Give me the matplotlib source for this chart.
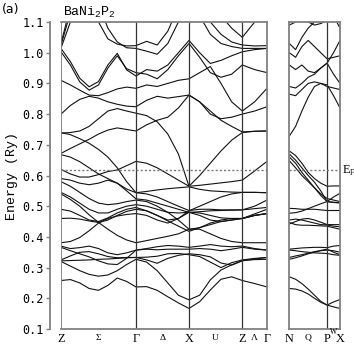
import numpy as np
import matplotlib
matplotlib.use("Agg")
import matplotlib.pyplot as plt
from matplotlib.transforms import blended_transform_factory

plt.rcParams['mathtext.fontset'] = 'custom'
plt.rcParams['mathtext.rm'] = 'Liberation Mono'
plt.rcParams['mathtext.default'] = 'rm'

# ---------------- data ----------------
E_F = 0.617
yticks = [0.1, 0.2, 0.3, 0.4, 0.5, 0.6, 0.7, 0.8, 0.9, 1.0, 1.1]

# main path Z-Σ-Γ-Δ-X-U-Z-Λ-Γ
main_points = ['Z', 'Γ', 'X', 'Z', 'Γ']
main_mid = ['Σ', 'Δ', 'U', 'Λ']
main_seg_len = [75.0, 53.0, 53.3, 24.7]
main_seg_n = [8, 5, 5, 2]

band_01 = [0.258, 0.261, 0.250, 0.232, 0.226, 0.242, 0.266, 0.255, 0.237, 0.238, 0.226, 0.205, 0.185, 0.167, 0.189, 0.227, 0.262, 0.270, 0.258, 0.248, 0.237]
band_02 = [0.320, 0.305, 0.290, 0.278, 0.272, 0.276, 0.290, 0.310, 0.327, 0.318, 0.290, 0.250, 0.210, 0.195, 0.210, 0.260, 0.292, 0.309, 0.323, 0.326, 0.327]
band_03 = [0.322, 0.323, 0.324, 0.325, 0.327, 0.328, 0.330, 0.332, 0.333, 0.334, 0.337, 0.345, 0.346, 0.342, 0.336, 0.318, 0.300, 0.316, 0.325, 0.330, 0.333]
band_04 = [0.325, 0.338, 0.350, 0.352, 0.345, 0.336, 0.332, 0.333, 0.333, 0.325, 0.314, 0.330, 0.340, 0.345, 0.342, 0.335, 0.315, 0.308, 0.322, 0.328, 0.333]
band_05 = [0.366, 0.355, 0.345, 0.335, 0.322, 0.312, 0.310, 0.330, 0.357, 0.360, 0.358, 0.360, 0.360, 0.360, 0.362, 0.360, 0.355, 0.360, 0.366, 0.360, 0.357]
band_06 = [0.370, 0.362, 0.365, 0.370, 0.362, 0.348, 0.342, 0.348, 0.357, 0.362, 0.368, 0.372, 0.370, 0.366, 0.370, 0.375, 0.370, 0.368, 0.370, 0.362, 0.357]
band_07 = [0.381, 0.385, 0.398, 0.420, 0.445, 0.460, 0.468, 0.473, 0.476, 0.470, 0.455, 0.445, 0.460, 0.480, 0.470, 0.455, 0.450, 0.455, 0.460, 0.470, 0.476]
band_08 = [0.540, 0.522, 0.500, 0.472, 0.447, 0.425, 0.405, 0.390, 0.381, 0.388, 0.395, 0.402, 0.410, 0.425, 0.425, 0.410, 0.395, 0.385, 0.381, 0.381, 0.381]
band_09 = [0.460, 0.461, 0.458, 0.452, 0.447, 0.455, 0.470, 0.483, 0.490, 0.485, 0.470, 0.455, 0.460, 0.485, 0.500, 0.515, 0.530, 0.540, 0.545, 0.545, 0.544]
band_10 = [0.490, 0.484, 0.470, 0.455, 0.450, 0.462, 0.478, 0.490, 0.496, 0.485, 0.470, 0.452, 0.435, 0.418, 0.430, 0.445, 0.455, 0.460, 0.460, 0.470, 0.476]
band_11 = [0.545, 0.530, 0.510, 0.490, 0.478, 0.478, 0.490, 0.500, 0.505, 0.500, 0.490, 0.480, 0.478, 0.480, 0.478, 0.470, 0.462, 0.460, 0.460, 0.475, 0.490]
band_12 = [0.580, 0.565, 0.545, 0.525, 0.510, 0.505, 0.508, 0.515, 0.520, 0.515, 0.500, 0.480, 0.455, 0.425, 0.430, 0.440, 0.450, 0.455, 0.460, 0.470, 0.476]
band_13 = [0.590, 0.585, 0.575, 0.570, 0.575, 0.585, 0.575, 0.556, 0.544, 0.540, 0.530, 0.515, 0.500, 0.486, 0.490, 0.490, 0.488, 0.488, 0.488, 0.492, 0.496]
band_14 = [0.620, 0.605, 0.595, 0.595, 0.603, 0.613, 0.618, 0.632, 0.646, 0.640, 0.625, 0.605, 0.585, 0.565, 0.600, 0.640, 0.680, 0.715, 0.740, 0.744, 0.745]
band_15 = [0.740, 0.733, 0.720, 0.705, 0.685, 0.660, 0.625, 0.580, 0.544, 0.548, 0.553, 0.557, 0.560, 0.563, 0.555, 0.550, 0.548, 0.546, 0.545, 0.545, 0.544]
band_16 = [0.672, 0.688, 0.703, 0.718, 0.735, 0.748, 0.755, 0.750, 0.745, 0.765, 0.780, 0.790, 0.820, 0.862, 0.840, 0.810, 0.780, 0.760, 0.742, 0.744, 0.745]
band_17 = [0.800, 0.828, 0.848, 0.858, 0.852, 0.840, 0.832, 0.826, 0.824, 0.845, 0.858, 0.852, 0.857, 0.862, 0.840, 0.800, 0.785, 0.790, 0.800, 0.810, 0.824]
band_18 = [0.910, 0.895, 0.878, 0.862, 0.860, 0.870, 0.882, 0.888, 0.884, 0.895, 0.890, 0.900, 0.910, 0.915, 0.935, 0.955, 0.900, 0.840, 0.810, 0.840, 0.884]
band_19 = [1.014, 0.971, 0.917, 0.889, 0.906, 0.960, 0.998, 0.944, 0.924, 0.945, 0.940, 0.960, 1.000, 1.040, 1.000, 0.965, 0.975, 0.990, 1.003, 1.010, 1.014]
band_20 = [1.003, 0.960, 0.905, 0.878, 0.895, 0.950, 0.990, 0.948, 0.935, 0.930, 0.915, 0.945, 0.990, 1.030, 0.985, 0.935, 0.920, 0.930, 0.960, 0.945, 0.935]
band_21 = [1.025, 1.130, 1.200, 1.160, 1.100, 1.045, 1.028, 1.022, 1.023, 1.037, 1.025, 1.070, 1.150, 1.200, 1.150, 1.100, 1.060, 1.035, 1.025, 1.022, 1.023]
band_22 = [1.015, 1.100, 1.180, 1.200, 1.160, 1.080, 1.035, 1.016, 1.014, 1.005, 0.995, 1.030, 1.100, 1.170, 1.120, 1.060, 1.030, 1.020, 1.014, 1.014, 1.014]
band_23 = [1.030, 1.150, 1.250, 1.300, 1.300, 1.250, 1.200, 1.160, 1.140, 1.160, 1.200, 1.250, 1.300, 1.300, 1.250, 1.180, 1.120, 1.080, 1.050, 1.100, 1.140]
band_24 = [0.738, 0.740, 0.745, 0.760, 0.785, 0.810, 0.818, 0.810, 0.803, 0.795, 0.775, 0.735, 0.670, 0.565, 0.568, 0.572, 0.576, 0.580, 0.585, 0.615, 0.646]
band_25 = [0.668, 0.660, 0.645, 0.625, 0.605, 0.590, 0.575, 0.550, 0.524, 0.520, 0.510, 0.500, 0.490, 0.480, 0.482, 0.485, 0.486, 0.487, 0.488, 0.500, 0.520]

main_bands = [band_01, band_02, band_03, band_04, band_05, band_06, band_07, band_08,
              band_09, band_10, band_11, band_12, band_13, band_14, band_15, band_16,
              band_17, band_18, band_19, band_20, band_21, band_22, band_23, band_24, band_25]

# second path N-Q-P-W-X
side_points = ['N', 'P', 'X']
side_mid = ['Q', 'W']
side_seg_len = [38.0, 13.0]
side_seg_n = [6, 2]

nb_01 = [0.270, 0.262, 0.248, 0.230, 0.210, 0.190, 0.178, 0.188, 0.196]
nb_02 = [0.232, 0.230, 0.224, 0.214, 0.200, 0.187, 0.178, 0.172, 0.167]
nb_03 = [0.360, 0.362, 0.364, 0.365, 0.366, 0.366, 0.365, 0.370, 0.372]
nb_04 = [0.333, 0.338, 0.342, 0.347, 0.352, 0.355, 0.357, 0.355, 0.350]
nb_05 = [0.327, 0.332, 0.338, 0.345, 0.350, 0.356, 0.360, 0.350, 0.342]
nb_06 = [0.357, 0.355, 0.352, 0.350, 0.348, 0.347, 0.346, 0.342, 0.340]
nb_07 = [0.680, 0.665, 0.640, 0.610, 0.590, 0.575, 0.565, 0.566, 0.566]
nb_08 = [0.670, 0.650, 0.625, 0.600, 0.578, 0.550, 0.515, 0.530, 0.542]
nb_09 = [0.660, 0.640, 0.610, 0.585, 0.560, 0.535, 0.515, 0.512, 0.511]
nb_10 = [0.648, 0.625, 0.600, 0.580, 0.560, 0.540, 0.525, 0.520, 0.515]
nb_11 = [0.493, 0.492, 0.490, 0.490, 0.490, 0.488, 0.486, 0.486, 0.486]
nb_12 = [0.477, 0.479, 0.484, 0.492, 0.500, 0.508, 0.515, 0.513, 0.511]
nb_13 = [0.455, 0.458, 0.455, 0.450, 0.445, 0.440, 0.439, 0.435, 0.433]
nb_14 = [0.447, 0.440, 0.438, 0.438, 0.437, 0.436, 0.435, 0.430, 0.425]
nb_15 = [0.442, 0.450, 0.458, 0.460, 0.455, 0.448, 0.440, 0.440, 0.440]
nb_16 = [0.728, 0.760, 0.810, 0.855, 0.890, 0.900, 0.895, 0.860, 0.820]
nb_17 = [0.865, 0.860, 0.880, 0.900, 0.905, 0.900, 0.890, 0.885, 0.880]
nb_18 = [0.890, 0.885, 0.900, 0.920, 0.930, 0.950, 0.966, 1.000, 1.040]
nb_19 = [0.960, 0.945, 0.960, 0.940, 0.935, 0.950, 0.966, 0.930, 0.900]
nb_20 = [1.000, 0.985, 1.020, 1.040, 1.020, 1.000, 0.980, 0.985, 0.990]
nb_21 = [1.030, 1.010, 1.050, 1.080, 1.100, 1.120, 1.140, 1.120, 1.080]
nb_22 = [1.090, 1.100, 1.105, 1.100, 1.090, 1.095, 1.105, 1.120, 1.140]

side_bands = [nb_01, nb_02, nb_03, nb_04, nb_05, nb_06, nb_07, nb_08, nb_09, nb_10, nb_11,
              nb_12, nb_13, nb_14, nb_15, nb_16, nb_17, nb_18, nb_19, nb_20, nb_21, nb_22]


def kgrid(lengths, counts):
    ks = [0.0]
    start = 0.0
    for L, n in zip(lengths, counts):
        ks.extend(np.linspace(start, start + L, n + 1)[1:])
        start += L
    return np.array(ks)


# ---------------- figure ----------------
W, H = 354, 344
fig = plt.figure(figsize=(W / 100, H / 100), dpi=100)
frame_col = '#808080'
line_col = '#111111'

ax1 = fig.add_axes([61 / W, 1 - 329 / H, 206 / W, 307 / H])
ax2 = fig.add_axes([289.3 / W, 1 - 329 / H, 50.7 / W, 307 / H])

k_main = kgrid(main_seg_len, main_seg_n)
k_side = kgrid(side_seg_len, side_seg_n)
sym_main = np.concatenate([[0.0], np.cumsum(main_seg_len)])
sym_side = np.concatenate([[0.0], np.cumsum(side_seg_len)])

for b in main_bands:
    ax1.plot(k_main, b, color=line_col, lw=0.8, solid_joinstyle='round')
for b in side_bands:
    ax2.plot(k_side, b, color=line_col, lw=0.8, solid_joinstyle='round')

for ax, sym in ((ax1, sym_main), (ax2, sym_side)):
    ax.set_xlim(sym[0], sym[-1])
    ax.set_ylim(0.1, 1.1)
    for s in sym[1:-1]:
        ax.axvline(s, color='#333333', lw=0.9)
    ax.axhline(E_F, color='#777777', lw=1.0, ls=(0, (1.5, 1.5)))
    for sp in ax.spines.values():
        sp.set_color(frame_col)
        sp.set_linewidth(1.3)
    ax.set_xticks([])

# main axis: offset left spine with ticks
ax1.spines['left'].set_position(('outward', 8))
ax1.axvline(0, color=frame_col, lw=1.3)
ax1.set_yticks(yticks)
ax1.set_yticklabels([f'{v:.1f}' for v in yticks], fontsize=8.5,
                    family='DejaVu Sans Mono')
ax1.tick_params(axis='y', direction='out', length=3, width=1, color=frame_col, pad=1.5)
ax1.set_ylabel('Energy (Ry)', fontsize=9.5, family='Liberation Mono', labelpad=3)
ax2.set_yticks([])

# k labels
tr1 = blended_transform_factory(ax1.transData, fig.transFigure)
tr2 = blended_transform_factory(ax2.transData, fig.transFigure)
ybig = 1 - 342 / H
ysmall = 1 - 339.5 / H
yw = 1 - 333.5 / H
for s, lab in zip(sym_main, main_points):
    ax1.text(s, ybig, lab, transform=tr1, ha='center', va='baseline',
             fontsize=8.8, family='Liberation Serif')
for i, lab in enumerate(main_mid):
    xm = 0.5 * (sym_main[i] + sym_main[i + 1])
    ax1.text(xm, ysmall, lab, transform=tr1, ha='center', va='baseline',
             fontsize=6.8, family='Liberation Serif')
for s, lab in zip(sym_side, side_points):
    ax2.text(s, ybig, lab, transform=tr2, ha='center', va='baseline',
             fontsize=8.8, family='Liberation Serif')
xq = 0.5 * (sym_side[0] + sym_side[1])
ax2.text(xq, ysmall, side_mid[0], transform=tr2, ha='center', va='baseline',
         fontsize=6.8, family='Liberation Serif')
xw = 0.5 * (sym_side[1] + sym_side[2])
ax2.text(xw, yw, side_mid[1], transform=tr2, ha='center', va='baseline',
         fontsize=5.5, family='Liberation Serif')

# E_F label
fig.text(343 / W, 1 - 170 / H, 'E', fontsize=9, family='Liberation Serif',
         ha='left', va='center')
fig.text(349.5 / W, 1 - 173 / H, 'F', fontsize=5.5, family='Liberation Serif',
         ha='left', va='center')

# title and panel tag
fig.text(63 / W, 1 - 12 / H, r'BaNi$_2$P$_2$', fontsize=9.5, family='Liberation Mono',
         ha='left', va='center')
fig.text(2 / W, 1 - 9 / H, '(a)', fontsize=9, family='DejaVu Sans', ha='left', va='center')

fig.savefig('out.png', dpi=100)
